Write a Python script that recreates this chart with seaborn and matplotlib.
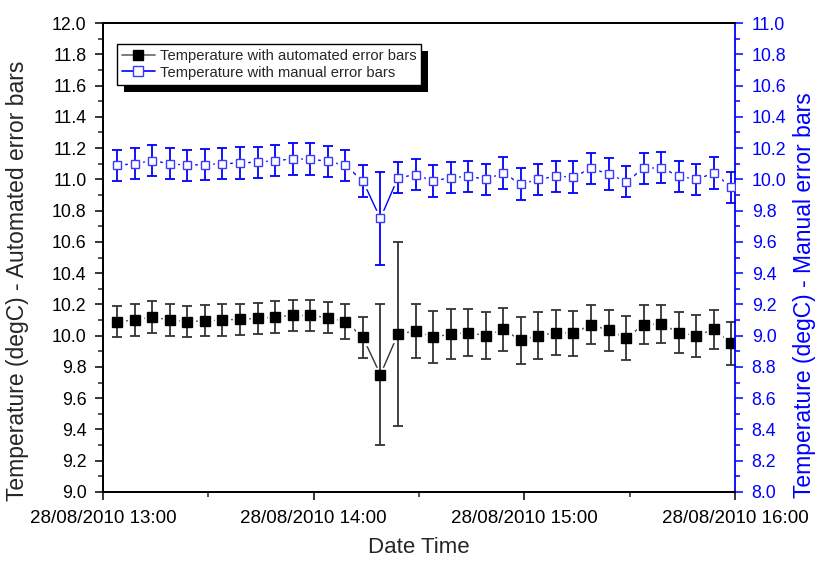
import pandas as pd
import numpy as np
import matplotlib
matplotlib.use('Agg')
import matplotlib.pyplot as plt
import matplotlib.dates as mdates
from matplotlib.lines import Line2D
from matplotlib.patches import Rectangle
from matplotlib.ticker import MultipleLocator, FormatStrFormatter
import seaborn as sns

# ------------------------
# Data
# ------------------------
start_time = '2010-08-28 13:04'
n_points = 36

temps = [10.09, 10.10, 10.12, 10.10, 10.09, 10.095, 10.10, 10.105, 10.11, 10.12,
         10.13, 10.13, 10.115, 10.09, 9.99, 9.75, 10.01, 10.03, 9.99, 10.01,
         10.02, 10.00, 10.04, 9.97, 10.00, 10.02, 10.015, 10.07, 10.035, 9.985,
         10.07, 10.075, 10.02, 10.00, 10.04, 9.95]

auto_err = [0.10, 0.10, 0.10, 0.10, 0.10, 0.10, 0.10, 0.10, 0.10, 0.10,
            0.10, 0.10, 0.10, 0.11, 0.13, 0.45, 0.59, 0.175, 0.167, 0.158,
            0.151, 0.151, 0.137, 0.151, 0.149, 0.141, 0.142, 0.124, 0.13, 0.141,
            0.124, 0.122, 0.129, 0.134, 0.124, 0.14]

manual_err = [0.1, 0.1, 0.1, 0.1, 0.1, 0.1, 0.1, 0.1, 0.1, 0.1,
              0.1, 0.1, 0.1, 0.1, 0.1, 0.3, 0.1, 0.1, 0.1, 0.1,
              0.1, 0.1, 0.1, 0.1, 0.1, 0.1, 0.1, 0.1, 0.1, 0.1,
              0.1, 0.1, 0.1, 0.1, 0.1, 0.1]

labels = ['Temperature with automated error bars', 'Temperature with manual error bars']

times = pd.date_range(start_time, periods=n_points, freq='5min')
df = pd.DataFrame({'DateTime': times, 'Temp': temps,
                   'AutoErr': auto_err, 'ManualErr': manual_err})

# ------------------------
# Style
# ------------------------
sns.set_style('ticks')
plt.rcParams['font.family'] = ['Liberation Sans', 'DejaVu Sans']

BLACK_LINE = '#333333'
BLUE = '#0000ff'
BLUE_MARK = '#3a3aff'

fig = plt.figure(figsize=(8.18, 5.62), dpi=100)
ax = fig.add_axes([0.126, 0.1246, 0.7725, 0.8344])
ax2 = ax.twinx()


def draw_series(axis, err_col, line_color, face, edge, msize):
    sns.lineplot(data=df, x='DateTime', y='Temp', ax=axis, color=line_color,
                 linewidth=1.0, zorder=1, legend=False)
    # white halo gives the gap between line and symbol
    axis.plot(df['DateTime'], df['Temp'], 's', ms=msize + 4, mfc='white',
              mec='white', zorder=2)
    axis.errorbar(df['DateTime'], df['Temp'], yerr=df[err_col], fmt='none',
                  ecolor=line_color, elinewidth=1.3, capsize=3.3,
                  capthick=1.3, zorder=3)
    axis.plot(df['DateTime'], df['Temp'], 's', ms=msize, mfc=face, mec=edge,
              mew=1.0, zorder=4)


draw_series(ax, 'AutoErr', BLACK_LINE, 'black', 'black', 6.8)
draw_series(ax2, 'ManualErr', BLUE, 'white', BLUE_MARK, 6.0)

# ------------------------
# Axes
# ------------------------
ax.set_xlim(pd.Timestamp('2010-08-28 13:00'), pd.Timestamp('2010-08-28 16:00'))
ax.set_ylim(9.0, 12.0)
ax2.set_ylim(8.0, 11.0)

ax.xaxis.set_major_locator(mdates.HourLocator())
ax.xaxis.set_minor_locator(mdates.MinuteLocator(byminute=[30]))
ax.xaxis.set_major_formatter(mdates.DateFormatter('%d/%m/%Y %H:%M'))
for a in (ax, ax2):
    a.yaxis.set_major_locator(MultipleLocator(0.2))
    a.yaxis.set_minor_locator(MultipleLocator(0.1))
    a.yaxis.set_major_formatter(FormatStrFormatter('%.1f'))

ax.tick_params(axis='x', which='major', direction='out', length=6, width=1.1,
               labelsize=13.5, colors='black', pad=7)
ax.tick_params(axis='y', which='major', direction='out', length=6, width=1.1,
               labelsize=12.8, colors='black', pad=6)
ax.tick_params(axis='both', which='minor', direction='out', length=3.5, width=1.1)
ax2.tick_params(axis='y', which='major', direction='out', length=6, width=1.1,
                labelsize=12.8, colors=BLUE, pad=6)
ax2.tick_params(axis='y', which='minor', direction='out', length=3.5, width=1.1,
                colors=BLUE)

for s in ['left', 'bottom', 'top']:
    ax.spines[s].set_linewidth(1.3)
    ax.spines[s].set_color('black')
    ax2.spines[s].set_linewidth(1.3)
    ax2.spines[s].set_color('black')
ax2.spines['right'].set_color(BLUE)
ax2.spines['right'].set_linewidth(1.3)
ax.spines['right'].set_visible(False)

ax.set_xlabel('Date Time', fontsize=16, labelpad=7)
ax.set_ylabel('Temperature (degC) - Automated error bars', fontsize=16.5)
ax2.set_ylabel('Temperature (degC) - Manual error bars', fontsize=16.5, color=BLUE)
ax.yaxis.set_label_coords(-0.117, 0.45)
ax2.yaxis.set_label_coords(1.092, 0.42)

# ------------------------
# Legend with solid drop shadow
# ------------------------
handles = [
    Line2D([], [], color='#666666', lw=1.2, marker='s', ms=6.5,
           mfc='black', mec='black'),
    Line2D([], [], color=BLUE, lw=1.2, marker='s', ms=6.5,
           mfc='white', mec=BLUE_MARK),
]
leg = ax2.legend(handles, labels, loc='upper left', bbox_to_anchor=(0.022, 0.955),
                 borderaxespad=0, fontsize=10.6, frameon=True, fancybox=False,
                 framealpha=1, edgecolor='black', handlelength=2.2,
                 handletextpad=0.35, labelspacing=0.15, borderpad=0.35)
leg.get_frame().set_linewidth(1.0)
leg.set_zorder(10)

fig.canvas.draw()
bb = leg.get_window_extent()
shadow = Rectangle((bb.x0 + 7, bb.y0 - 7), bb.width, bb.height,
                   transform=None, facecolor='black', edgecolor='none', zorder=9)
ax2.add_artist(shadow)

fig.savefig('out.png', dpi=100)
